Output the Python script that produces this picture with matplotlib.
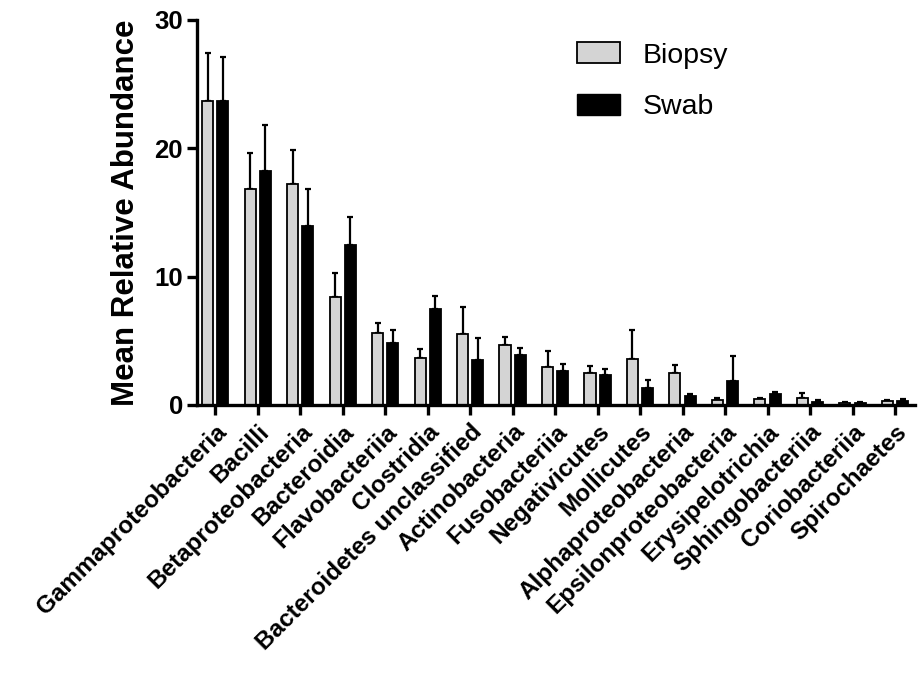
import numpy as np
import matplotlib.pyplot as plt
from matplotlib.patches import Patch

plt.rcParams["font.family"] = ["Liberation Sans", "DejaVu Sans"]

categories = [
    "Gammaproteobacteria", "Bacilli", "Betaproteobacteria", "Bacteroidia",
    "Flavobacteriia", "Clostridia", "Bacteroidetes unclassified",
    "Actinobacteria", "Fusobacteriia", "Negativicutes", "Mollicutes",
    "Alphaproteobacteria", "Epsilonproteobacteria", "Erysipelotrichia",
    "Sphingobacteriia", "Coriobacteriia", "Spirochaetes",
]
biopsy = [23.7, 16.8, 17.2, 8.4, 5.6, 3.7, 5.5, 4.7, 3.0, 2.5, 3.6, 2.5,
          0.4, 0.45, 0.55, 0.15, 0.3]
biopsy_err = [3.7, 2.8, 2.7, 1.9, 0.8, 0.7, 2.1, 0.6, 1.2, 0.55, 2.25, 0.65,
              0.12, 0.12, 0.35, 0.05, 0.1]
swab = [23.7, 18.2, 13.95, 12.45, 4.85, 7.45, 3.5, 3.9, 2.65, 2.3, 1.3, 0.7,
        1.85, 0.85, 0.25, 0.15, 0.35]
swab_err = [3.4, 3.6, 2.85, 2.2, 1.0, 1.05, 1.7, 0.55, 0.55, 0.5, 0.65, 0.15,
            1.95, 0.15, 0.12, 0.07, 0.1]

x = np.arange(len(categories))
w = 0.26
off = 0.18

fig = plt.figure(figsize=(9.19, 6.74), dpi=100)
ax = fig.add_axes([197 / 919, 269 / 674, 718 / 919, 385 / 674])

zeros = np.zeros(len(x))
ax.errorbar(x - off, biopsy, yerr=[zeros, biopsy_err], fmt="none",
            ecolor="black", elinewidth=1.6, capsize=2.5, capthick=1.6, zorder=1)
ax.errorbar(x + off, swab, yerr=[zeros, swab_err], fmt="none",
            ecolor="black", elinewidth=1.6, capsize=2.5, capthick=1.6, zorder=1)
ax.bar(x - off, biopsy, w, color="#d4d4d4", edgecolor="black", linewidth=1.3,
       zorder=2)
ax.bar(x + off, swab, w, color="black", edgecolor="black", linewidth=1.3,
       zorder=2)

ax.set_xlim(-0.43, 16.47)
ax.set_ylim(0, 30)
ax.set_yticks([0, 10, 20, 30])
ax.set_xticks(x)
ax.set_xticklabels(categories, rotation=45, ha="right", rotation_mode="anchor",
                   fontsize=17.5, fontweight="bold")
for lab in ax.get_yticklabels():
    lab.set_fontsize(18.5)
    lab.set_fontweight("bold")
ax.set_ylabel("Mean Relative Abundance", fontsize=22.5, fontweight="bold",
              labelpad=10)

for s in ["top", "right"]:
    ax.spines[s].set_visible(False)
for s in ["left", "bottom"]:
    ax.spines[s].set_linewidth(2.4)
ax.tick_params(axis="both", width=2.4, length=7, direction="out")
ax.tick_params(axis="y", pad=3)
ax.tick_params(axis="x", pad=4)

handles = [Patch(facecolor="#d4d4d4", edgecolor="black", linewidth=1.3),
           Patch(facecolor="black", edgecolor="black")]
ax.legend(handles, ["Biopsy", "Swab"], loc="upper left",
          bbox_to_anchor=(0.529, 0.942), frameon=False, fontsize=20.5,
          handlelength=1.5, handleheight=0.75, handletextpad=0.8,
          labelspacing=0.88, borderpad=0, borderaxespad=0)

fig.savefig("out.png", dpi=100)
